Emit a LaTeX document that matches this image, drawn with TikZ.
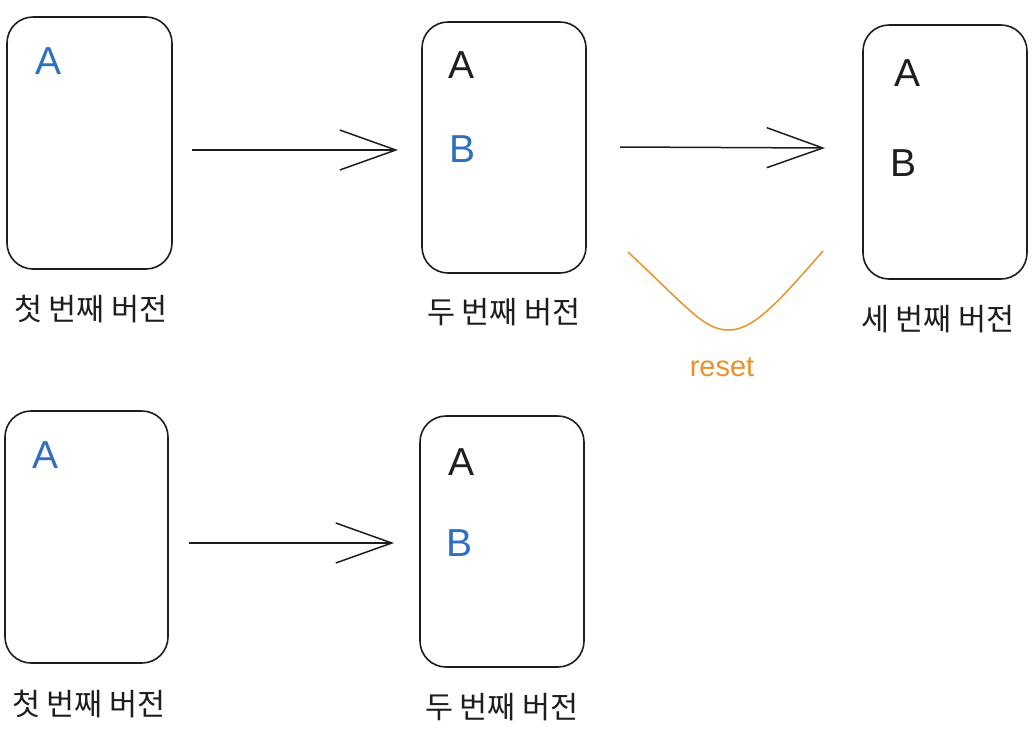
\documentclass[tikz,border=0pt]{standalone}
\usepackage{fontspec}
\setmainfont{Liberation Sans}
\newfontfamily\kr{Noto Sans CJK KR}
\usetikzlibrary{arrows.meta}
\definecolor{ink}{HTML}{1E1E1E}
\definecolor{eblue}{HTML}{2F6FBF}
\definecolor{eorange}{HTML}{E8922A}
\tikzset{
  card/.style={draw=ink, line width=1.6pt, rounded corners=26pt, inner sep=0pt},
  letter/.style={font=\fontsize{39}{41}\selectfont, inner sep=0pt, text=ink},
  bletter/.style={letter, text=eblue},
  caption/.style={font=\kr\fontsize{30.5}{32}\selectfont, inner sep=0pt, text=ink},
  flow/.style={draw=ink, line width=1.5pt, -{Straight Barb[length=56pt,width=40pt,line width=1.5pt]}},
  resetline/.style={draw=eorange, line width=1.5pt},
}
\begin{document}
\begin{tikzpicture}[x=1pt,y=-1pt]
\useasboundingbox[fill=white] (0,0) rectangle (1036,740);
% row 1
\node[card, minimum width=165pt, minimum height=252pt] (b1) at (89.5,143) {};
\node[card, minimum width=164pt, minimum height=251pt] (b2) at (504,147.5) {};
\node[card, minimum width=164pt, minimum height=254pt] (b3) at (945,152) {};
\node[bletter] (b1a) at (49,61) {A};
\node[letter] (b2a) at (462,65) {A};
\node[bletter] (b2b) at (463,149) {B};
\node[letter] (b3a) at (907,73) {A};
\node[letter] (b3b) at (903,163) {B};
\node[caption] (c1) at (91,309) {첫 번째 버전};
\node[caption] (c2) at (504,312) {두 번째 버전};
\node[caption] (c3) at (938,319) {세 번째 버전};
\coordinate (a1s) at (192,150);
\coordinate (a1e) at (398,150);
\coordinate (a2s) at (620,147);
\coordinate (a2e) at (825,148);
\draw[flow] (a1s) -- (a1e);
\draw[flow] (a2s) -- (a2e);
\coordinate (r1) at (628,252);
\coordinate (r2) at (730,330);
\coordinate (r3) at (823,251);
\draw[resetline] (r1) .. controls (690,310) and (705,331) .. (r2) .. controls (755,329) and (780,300) .. (r3);
\node[font=\fontsize{29}{32}\selectfont, text=eorange, inner sep=0pt] (rs) at (722,367) {reset};
% row 2
\node[card, minimum width=163pt, minimum height=252pt] (b4) at (86.5,537) {};
\node[card, minimum width=164pt, minimum height=251pt] (b5) at (502,541.5) {};
\node[bletter] (b4a) at (46,455) {A};
\node[letter] (b5a) at (462,462) {A};
\node[bletter] (b5b) at (460,543) {B};
\node[caption] (c4) at (89,704) {첫 번째 버전};
\node[caption] (c5) at (502,707) {두 번째 버전};
\coordinate (a3s) at (189,543);
\coordinate (a3e) at (394,543);
\draw[flow] (a3s) -- (a3e);
\end{tikzpicture}
\end{document}
